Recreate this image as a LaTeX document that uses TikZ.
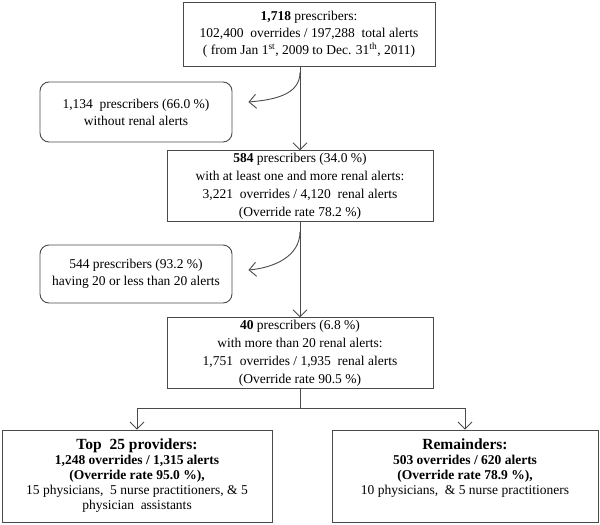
\documentclass[tikz,border=0pt]{standalone}
\usepackage{fontspec}
\setmainfont{Liberation Serif}
\usetikzlibrary{arrows.meta,calc}
\definecolor{linec}{HTML}{4A4A4A}
\tikzset{
  box/.style={draw=linec, line width=0.9pt, align=center, inner sep=2pt, font=\fontsize{13.5}{17}\selectfont},
  rbox/.style={box, rounded corners=9pt},
  conn/.style={draw=linec, line width=0.9pt},
  arr/.style={conn, -{Straight Barb[length=7pt,width=14pt,line width=0.9pt]}},
}
\begin{document}
\begin{tikzpicture}[x=1pt,y=-1pt]
\useasboundingbox (0,0) rectangle (600,525);
\node[box, minimum width=252pt, minimum height=64pt] (b1) at (309,34)
  {\textbf{1,718} prescribers:\\102,400 \ overrides / 197,288 \ total alerts\\( from Jan 1\textsuperscript{st}, 2009 to Dec. 31\textsuperscript{th}, 2011)};
\node[rbox, minimum width=192pt, minimum height=60pt] (r1) at (136,112)
  {1,134 \ prescribers (66.0 \%)\\without renal alerts};
\node[box, minimum width=266pt, minimum height=68pt, font=\fontsize{13.5}{18}\selectfont] (b2) at (300,186)
  {\textbf{584} prescribers (34.0 \%)\\with at least one and more renal alerts:\\3,221 \ overrides / 4,120 \ renal alerts\\(Override rate 78.2 \%)};
\node[rbox, minimum width=192pt, minimum height=58pt] (r2) at (136,274)
  {544 prescribers (93.2 \%)\\having 20 or less than 20 alerts};
\node[box, minimum width=266pt, minimum height=70pt, font=\fontsize{13.5}{18}\selectfont] (b3) at (300,353)
  {\textbf{40} prescribers (6.8 \%)\\with more than 20 renal alerts:\\1,751 \ overrides / 1,935 \ renal alerts\\(Override rate 90.5 \%)};
\node[box, minimum width=270pt, minimum height=92pt, font=\fontsize{13.5}{15}\selectfont] (b4) at (137,476)
  {{\fontsize{15.5}{16}\selectfont\textbf{Top \ 25 providers:}}\\\textbf{1,248 overrides / 1,315 alerts}\\\textbf{(Override rate 95.0 \%),}\\15 physicians, \ 5 nurse practitioners, \& 5\\physician \ assistants};
\node[box, minimum width=266pt, minimum height=92pt] (b5) at (465,476) {};
\node[font=\fontsize{13.5}{15}\selectfont, align=center, anchor=north, inner sep=0pt] (t5) at ($(b5.north)+(0,9)$)
  {{\fontsize{15.5}{16}\selectfont\textbf{Remainders:}}\\\textbf{503 overrides / 620 alerts}\\\textbf{(Override rate 78.9 \%),}\\10 physicians, \ \& 5 nurse practitioners};
% connectors
\draw[arr] (b2.north |- b1.south) -- (b2.north);
\coordinate (s1) at ($(b2.north |- b1.south)+(0,6)$);
\coordinate (e1) at ($(r1.east)+(16,-10)$);
\draw[arr] (s1) to[out=-90,in=5] (e1);
\draw[arr] (b2.south) -- (b3.north);
\coordinate (s2) at ($(b2.south)+(0,10)$);
\coordinate (e2) at ($(r2.east)+(16,-4)$);
\draw[arr] (s2) to[out=-90,in=5] (e2);
\coordinate (h) at ($(b3.south)+(0,20)$);
\draw[conn] (b3.south) -- (h);
\draw[arr] (h) -| (b4.north);
\draw[arr] (h) -| (b5.north);
\end{tikzpicture}
\end{document}
